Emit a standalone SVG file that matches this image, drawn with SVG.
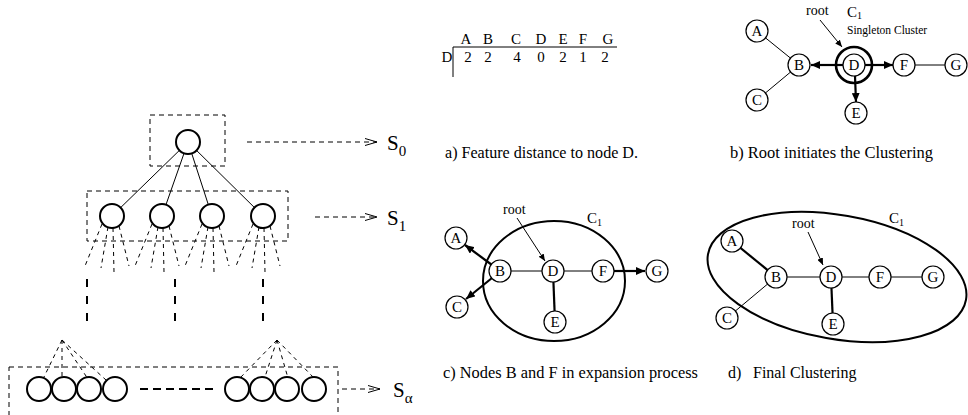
<svg xmlns="http://www.w3.org/2000/svg" width="968" height="415" viewBox="0 0 968 415">
<style>
text{font-family:"Liberation Serif","Times New Roman",serif;fill:#000}
.nd{fill:#fff;stroke:#000;stroke-width:1.2}
.lv{fill:#fff;stroke:#000;stroke-width:2}
.lb{font-size:15px;text-anchor:middle}
.thin{stroke:#000;stroke-width:1;fill:none}
.thick{stroke:#000;stroke-width:2.2;fill:none}
.box{fill:none;stroke:#000;stroke-width:1;stroke-dasharray:5,4}
.fan{stroke:#000;stroke-width:1;stroke-dasharray:4,4;fill:none}
.vd{stroke:#000;stroke-width:2;stroke-dasharray:8,9;fill:none}
.sarr{stroke:#000;stroke-width:1;stroke-dasharray:5,4;fill:none}
.cap{font-size:16px}
.root{font-size:14px}
</style>
<defs>
<marker id="chev" markerUnits="userSpaceOnUse" markerWidth="14" markerHeight="10" refX="13" refY="5" orient="auto">
<path d="M1,1.5 L13,5 L1,8.5" fill="none" stroke="#000" stroke-width="1"/>
</marker>
<marker id="af" markerUnits="userSpaceOnUse" markerWidth="10" markerHeight="8" refX="9" refY="4" orient="auto">
<path d="M0,0 L9,4 L0,8 z" fill="#000"/>
</marker>
<marker id="as" markerUnits="userSpaceOnUse" markerWidth="8" markerHeight="6" refX="7" refY="3" orient="auto">
<path d="M0,0 L7,3 L0,6 z" fill="#000"/>
</marker>
</defs>

<!-- Left hierarchy -->
<g id="hierarchy">
<rect class="box" x="150" y="115" width="75" height="51"/>
<rect class="box" x="87" y="191" width="201" height="50"/>
<rect class="box" x="9" y="367" width="329" height="60"/>
</g>
<g id="connectors">
<line class="thin" x1="188" y1="142" x2="112" y2="216"/>
<line class="thin" x1="188" y1="142" x2="162" y2="216"/>
<line class="thin" x1="188" y1="142" x2="212" y2="216"/>
<line class="thin" x1="188" y1="142" x2="263" y2="216"/>
<g id="fans">
<path class="fan" d="M102,224 L85,266 M108,227 L101,268 M113,228 L114,272 M119,226 L129,266"/>
<path class="fan" d="M152,224 L135,266 M158,227 L151,268 M163,228 L164,272 M169,226 L179,266"/>
<path class="fan" d="M202,224 L185,266 M208,227 L201,268 M213,228 L214,272 M219,226 L229,266"/>
<path class="fan" d="M253,224 L236,266 M259,227 L252,268 M264,228 L265,272 M270,226 L280,266"/>
<path class="vd" d="M87,279 L87,327 M175,279 L175,327 M263,279 L263,327"/>
<path class="fan" d="M62,340 L43,379 M62,340 L62,377 M62,340 L88,379 M62,340 L106,380"/>
<path class="fan" d="M277,340 L239,379 M277,340 L265,377 M277,340 L288,378 M277,340 L315,379"/>
<line x1="140" y1="389" x2="214" y2="389" stroke="#000" stroke-width="2" stroke-dasharray="8,5"/>
</g>
<line class="sarr" x1="247" y1="142" x2="377" y2="142" marker-end="url(#chev)"/>
<line class="sarr" x1="315" y1="217" x2="377" y2="217" marker-end="url(#chev)"/>
<line class="sarr" x1="342" y1="389" x2="380" y2="389" marker-end="url(#chev)"/>

<!-- panel b connectors -->
<line class="thin" x1="757" y1="31" x2="799" y2="65"/>
<line class="thin" x1="757" y1="100" x2="799" y2="65"/>
<line class="thin" x1="904" y1="65" x2="956" y2="65"/>
<line class="thick" x1="843" y1="65" x2="811" y2="65" marker-end="url(#af)"/>
<line class="thick" x1="865" y1="65" x2="893" y2="65" marker-end="url(#af)"/>
<line class="thick" x1="855" y1="76" x2="856" y2="102" marker-end="url(#af)"/>
<line class="thin" x1="820" y1="20" x2="842" y2="47" marker-end="url(#as)"/>

<!-- panel c connectors -->
<line class="thin" x1="500" y1="271" x2="603" y2="271"/>
<line class="thick" x1="553" y1="271" x2="555" y2="322"/>
<line class="thick" x1="492" y1="265" x2="465" y2="245" marker-end="url(#af)"/>
<line class="thick" x1="492" y1="278" x2="466" y2="299" marker-end="url(#af)"/>
<line class="thick" x1="614" y1="271" x2="645" y2="271" marker-end="url(#af)"/>
<line class="thin" x1="517" y1="218" x2="545" y2="261" marker-end="url(#as)"/>

<!-- panel d connectors -->
<line class="thick" x1="732" y1="241" x2="776" y2="277"/>
<line class="thin" x1="727" y1="318" x2="776" y2="277"/>
<line class="thin" x1="776" y1="277" x2="933" y2="277"/>
<line class="thick" x1="831" y1="277" x2="833" y2="324"/>
<line class="thin" x1="808" y1="232" x2="823" y2="265" marker-end="url(#as)"/>
</g>

<!-- hierarchy nodes -->
<g id="h-root"><circle class="lv" cx="188" cy="142" r="12"/></g>
<g id="h-l1"><circle class="lv" cx="112" cy="216" r="12"/><circle class="lv" cx="162" cy="216" r="12"/><circle class="lv" cx="212" cy="216" r="12"/><circle class="lv" cx="263" cy="216" r="12"/></g>
<g id="h-leaves"><circle class="lv" cx="39" cy="389" r="12"/><circle class="lv" cx="64" cy="389" r="12"/><circle class="lv" cx="89" cy="389" r="12"/><circle class="lv" cx="115" cy="389" r="12"/><circle class="lv" cx="237" cy="389" r="12"/><circle class="lv" cx="262" cy="389" r="12"/><circle class="lv" cx="287" cy="389" r="12"/><circle class="lv" cx="314" cy="389" r="12"/></g>
<g id="s-labels">
<text x="387" y="150" font-size="21">S<tspan font-size="15" dy="6">0</tspan></text>
<text x="387" y="225" font-size="21">S<tspan font-size="15" dy="6">1</tspan></text>
<text x="393" y="397" font-size="21">S<tspan font-size="15" dy="6">α</tspan></text>
</g>

<!-- panel a table -->
<g id="table" font-size="15">
<g text-anchor="middle">
<text x="466" y="44">A</text><text x="488" y="44">B</text><text x="516" y="44">C</text><text x="541" y="44">D</text><text x="563" y="44">E</text><text x="583" y="44">F</text><text x="608" y="44">G</text>
<text x="447" y="62">D</text>
<text x="468" y="62">2</text><text x="488" y="62">2</text><text x="517" y="62">4</text><text x="541" y="62">0</text><text x="563" y="62">2</text><text x="583" y="62">1</text><text x="605" y="62">2</text>
</g>
<line class="thin" x1="453" y1="47" x2="617" y2="47"/>
<line class="thin" x1="453" y1="47" x2="453" y2="77"/>
</g>

<!-- panel b nodes -->
<g id="b-A"><circle class="nd" cx="757" cy="31" r="11"/><text class="lb" x="757" y="36">A</text></g>
<g id="b-B"><circle class="nd" cx="799" cy="65" r="11"/><text class="lb" x="799" y="70">B</text></g>
<g id="b-C"><circle class="nd" cx="757" cy="100" r="11"/><text class="lb" x="757" y="105">C</text></g>
<g id="b-D"><circle cx="854" cy="65" r="18" fill="none" stroke="#000" stroke-width="2.6"/><circle cx="854" cy="65" r="11" fill="none" stroke="#000" stroke-width="1.2"/><text class="lb" x="854" y="70">D</text></g>
<g id="b-F"><circle class="nd" cx="904" cy="65" r="11"/><text class="lb" x="904" y="70">F</text></g>
<g id="b-G"><circle class="nd" cx="956" cy="65" r="11"/><text class="lb" x="956" y="70">G</text></g>
<g id="b-E"><circle class="nd" cx="856" cy="113" r="11"/><text class="lb" x="856" y="118">E</text></g>
<text class="root" x="806" y="15">root</text>
<text x="847" y="17" font-size="15">C<tspan font-size="10" dy="2">1</tspan></text>
<text x="847" y="34" font-size="11.5">Singleton Cluster</text>

<!-- panel c -->
<g id="c-cluster"><ellipse cx="554" cy="281" rx="71" ry="60" fill="none" stroke="#000" stroke-width="2"/></g>
<g id="c-A"><circle class="nd" cx="456" cy="238" r="11"/><text class="lb" x="456" y="243">A</text></g>
<g id="c-B"><circle class="nd" cx="500" cy="271" r="11"/><text class="lb" x="500" y="276">B</text></g>
<g id="c-D"><circle class="nd" cx="553" cy="271" r="11"/><text class="lb" x="553" y="276">D</text></g>
<g id="c-F"><circle class="nd" cx="603" cy="271" r="11"/><text class="lb" x="603" y="276">F</text></g>
<g id="c-G"><circle class="nd" cx="657" cy="271" r="11"/><text class="lb" x="657" y="276">G</text></g>
<g id="c-C"><circle class="nd" cx="457" cy="307" r="11"/><text class="lb" x="457" y="312">C</text></g>
<g id="c-E"><circle class="nd" cx="555" cy="322" r="11"/><text class="lb" x="555" y="327">E</text></g>
<text class="root" x="503" y="214">root</text>
<text x="587" y="223" font-size="15">C<tspan font-size="10" dy="3">1</tspan></text>

<!-- panel d -->
<g id="d-cluster"><ellipse cx="837" cy="277" rx="131" ry="62" transform="rotate(10 837 277)" fill="none" stroke="#000" stroke-width="2"/></g>
<g id="d-A"><circle class="nd" cx="732" cy="241" r="11"/><text class="lb" x="732" y="246">A</text></g>
<g id="d-B"><circle class="nd" cx="776" cy="277" r="11"/><text class="lb" x="776" y="282">B</text></g>
<g id="d-D"><circle class="nd" cx="831" cy="277" r="11"/><text class="lb" x="831" y="282">D</text></g>
<g id="d-F"><circle class="nd" cx="880" cy="277" r="11"/><text class="lb" x="880" y="282">F</text></g>
<g id="d-G"><circle class="nd" cx="933" cy="277" r="11"/><text class="lb" x="933" y="282">G</text></g>
<g id="d-C"><circle class="nd" cx="727" cy="318" r="11"/><text class="lb" x="727" y="323">C</text></g>
<g id="d-E"><circle class="nd" cx="833" cy="324" r="11"/><text class="lb" x="833" y="329">E</text></g>
<text class="root" x="792" y="228">root</text>
<text x="889" y="223" font-size="15">C<tspan font-size="10" dy="3">1</tspan></text>

<!-- captions -->
<text class="cap" x="445" y="158" textLength="193" lengthAdjust="spacingAndGlyphs">a) Feature distance to node D.</text>
<text class="cap" x="730" y="158" textLength="203" lengthAdjust="spacingAndGlyphs">b) Root initiates the Clustering</text>
<text class="cap" x="443" y="378" textLength="255" lengthAdjust="spacingAndGlyphs">c) Nodes B and F in expansion process</text>
<text class="cap" x="728" y="378">d)<tspan x="753">Final Clustering</tspan></text>
</svg>
